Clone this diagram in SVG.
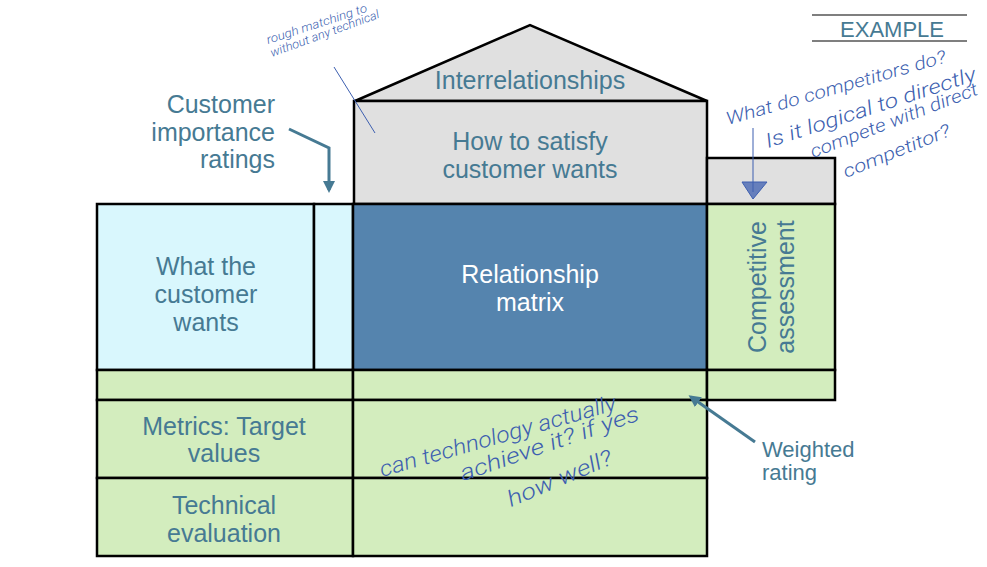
<svg xmlns="http://www.w3.org/2000/svg" width="987" height="567" viewBox="0 0 987 567">
<style>
.box{stroke:#000;stroke-width:2.5;stroke-linejoin:miter}
.cyan{fill:#d9f7fd}
.blue{fill:#5584ae}
.green{fill:#d3edbe}
.gray{fill:#e0e0e0}
.lbl{font-family:"Liberation Sans",Arial,sans-serif;font-size:25px;fill:#467a93;text-anchor:middle}
.wht{fill:#ffffff}
.hand{font-family:Roboto,"DejaVu Sans",sans-serif;font-style:italic;font-weight:300;fill:#3d5fb0}
.conn{stroke:#467a93;stroke-width:3;fill:none}
.ink{stroke:#3d5fb0;stroke-width:1;fill:none}
</style>
<defs>
<marker id="ah" markerWidth="4" markerHeight="4" refX="3" refY="2" orient="auto" markerUnits="strokeWidth">
<path d="M0,0 L4,2 L0,4 z" fill="#467a93"/>
</marker>
</defs>
<rect width="987" height="567" fill="#ffffff"/>

<g id="example">
<line x1="812" y1="15" x2="967" y2="15" stroke="#000" stroke-width="1.2"/>
<line x1="812" y1="41" x2="967" y2="41" stroke="#000" stroke-width="1.2"/>
<text x="892" y="37" class="lbl" style="font-size:22px">EXAMPLE</text>
</g>

<g id="roof">
<polygon class="box gray" points="355,101 530,25 707,101"/>
<text x="530" y="89" class="lbl">Interrelationships</text>
</g>

<g id="how">
<rect class="box gray" x="354" y="101" width="353" height="103"/>
<text x="530" y="150" class="lbl">How to satisfy</text>
<text x="530" y="178" class="lbl">customer wants</text>
</g>

<g id="comp-top">
<rect class="box gray" x="707" y="158" width="128" height="46"/>
</g>

<g id="wants">
<rect class="box cyan" x="97" y="204" width="217" height="166"/>
<text x="206" y="275" class="lbl">What the</text>
<text x="206" y="303" class="lbl">customer</text>
<text x="206" y="331" class="lbl">wants</text>
</g>

<g id="importance">
<rect class="box cyan" x="314" y="204" width="39" height="166"/>
</g>

<g id="matrix">
<rect class="box blue" x="353" y="204" width="354" height="166"/>
<text x="530" y="283" class="lbl wht">Relationship</text>
<text x="530" y="311" class="lbl wht">matrix</text>
</g>

<g id="competitive">
<rect class="box green" x="707" y="204" width="128" height="166"/>
<text transform="translate(766,287) rotate(-90)" class="lbl">Competitive</text>
<text transform="translate(794,287) rotate(-90)" class="lbl">assessment</text>
</g>

<g id="weighted-row">
<rect class="box green" x="97" y="370" width="256" height="30"/>
<rect class="box green" x="353" y="370" width="354" height="30"/>
<rect class="box green" x="707" y="370" width="128" height="30"/>
</g>

<g id="metrics">
<rect class="box green" x="97" y="400" width="256" height="78"/>
<text x="224" y="435" class="lbl">Metrics: Target</text>
<text x="224" y="462" class="lbl">values</text>
</g>

<g id="metrics-center">
<rect class="box green" x="353" y="400" width="354" height="78"/>
</g>

<g id="technical">
<rect class="box green" x="97" y="478" width="256" height="78"/>
<text x="224" y="514" class="lbl">Technical</text>
<text x="224" y="542" class="lbl">evaluation</text>
</g>

<g id="technical-center">
<rect class="box green" x="353" y="478" width="354" height="78"/>
</g>

<g id="label-importance">
<text x="275" y="113" class="lbl" style="text-anchor:end">Customer</text>
<text x="275" y="141" class="lbl" style="text-anchor:end">importance</text>
<text x="275" y="168" class="lbl" style="text-anchor:end">ratings</text>
</g>

<g id="label-weighted">
<text x="762" y="457" class="lbl" style="text-anchor:start;font-size:22px">Weighted</text>
<text x="762" y="480" class="lbl" style="text-anchor:start;font-size:22px">rating</text>
</g>

<g id="connectors">
<polyline class="conn" points="289,129 329,148 329,190" marker-end="url(#ah)"/>
<line class="conn" x1="755" y1="442" x2="691" y2="397" marker-end="url(#ah)"/>
</g>

<g id="annotations">
<line class="ink" x1="334" y1="67" x2="375" y2="133"/>
<text transform="translate(268,44) rotate(-18)" class="hand" style="font-size:12px" textLength="105" lengthAdjust="spacingAndGlyphs">rough matching to</text>
<text transform="translate(272,57) rotate(-20)" class="hand" style="font-size:12px" textLength="115" lengthAdjust="spacingAndGlyphs">without any technical</text>

<line class="ink" x1="753" y1="128" x2="753" y2="192"/>
<path d="M742,182 L767,182 L753,199 z" fill="#3d5fb0" fill-opacity="0.75" stroke="#3d5fb0" stroke-width="1"/>
<text transform="translate(728,125) rotate(-16)" class="hand" style="font-size:18px" textLength="228" lengthAdjust="spacingAndGlyphs">What do competitors do?</text>
<text transform="translate(768,148) rotate(-18)" class="hand" style="font-size:20px" textLength="220" lengthAdjust="spacingAndGlyphs">Is it logical to directly</text>
<text transform="translate(813,158) rotate(-21)" class="hand" style="font-size:18px" textLength="178" lengthAdjust="spacingAndGlyphs">compete with direct</text>
<text transform="translate(846,178) rotate(-22)" class="hand" style="font-size:18px" textLength="114" lengthAdjust="spacingAndGlyphs">competitor?</text>

<text transform="translate(382,477) rotate(-16)" class="hand" style="font-size:22px" textLength="245" lengthAdjust="spacingAndGlyphs">can technology actually</text>
<text transform="translate(463,481) rotate(-19)" class="hand" style="font-size:22px" textLength="188" lengthAdjust="spacingAndGlyphs">achieve it? if yes</text>
<text transform="translate(511,507) rotate(-23)" class="hand" style="font-size:22px" textLength="112" lengthAdjust="spacingAndGlyphs">how well?</text>
</g>
</svg>
